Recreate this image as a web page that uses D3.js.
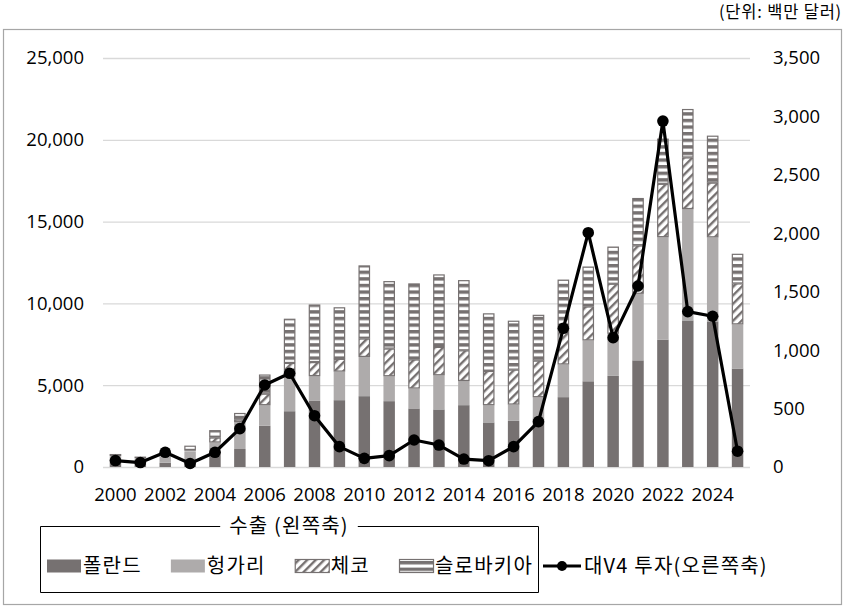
<!DOCTYPE html>
<html>
<head>
<meta charset="utf-8">
<script src="https://cdn.jsdelivr.net/npm/d3@7"></script>
<style>
  body { margin: 0; background: #fff; }
  svg { display: block; }
  text { font-family: 'Open Sans', 'Noto Sans CJK KR', sans-serif; fill: #000; }
  .kr { font-family: 'Noto Sans CJK KR', sans-serif; }
</style>
</head>
<body>
<div id="chart"></div>
<script>
var years = [2000, 2001, 2002, 2003, 2004, 2005, 2006, 2007, 2008, 2009, 2010, 2011, 2012,
             2013, 2014, 2015, 2016, 2017, 2018, 2019, 2020, 2021, 2022, 2023, 2024, 2025];
// 수출 (백만 달러, 왼쪽축)
var poland   = [500, 400, 260, 80, 1000, 1100, 2520, 3410, 4040, 4085, 4330, 4025, 3580,
                3520, 3780, 2725, 2820, 2970, 4270, 5240, 5570, 6520, 7790, 8960, 8900, 6020];
var hungary  = [150, 130, 400, 880, 500, 1650, 1260, 2150, 1520, 1750, 2400, 1525, 1220,
                2090, 1480, 1055, 1000, 1300, 2000, 2500, 2580, 4070, 6260, 6810, 5140, 2700];
var czech    = [20, 20, 10, 40, 300, 150, 700, 800, 850, 775, 1120, 1690, 1770,
                1730, 1870, 2090, 2130, 2230, 2300, 2070, 3050, 2950, 3260, 3150, 3340, 2500];
var slovakia = [120, 80, 30, 300, 450, 400, 1170, 2700, 3520, 3150, 4470, 4120, 4650,
                4430, 4290, 3520, 2990, 2800, 2880, 2440, 2270, 2900, 2760, 2960, 2870, 1810];
// 대V4 투자 (백만 달러, 오른쪽축)
var investment = [55, 38, 126, 30, 126, 328, 702, 802, 439, 174, 74, 97, 231,
                  188, 68, 54, 174, 388, 1187, 2005, 1107, 1549, 2960, 1330, 1290, 135];

var seriesNames = ['폴란드', '헝가리', '체코', '슬로바키아'];
var leftTicks = [0, 5000, 10000, 15000, 20000, 25000];
var rightTicks = [0, 500, 1000, 1500, 2000, 2500, 3000, 3500];
var xLabels = years.filter(y => y % 2 === 0);

var W = 845, H = 610;
var plotLeft = 103, plotRight = 750, plotBottom = 467, plotTop = 58;

var svg = d3.select('#chart')
            .append('svg')
            .attr('width', W)
            .attr('height', H);

var defs = svg.append('defs');

var hatch = defs.append('pattern')
    .attr('id', 'czech')
    .attr('patternUnits', 'userSpaceOnUse')
    .attr('width', 6)
    .attr('height', 6)
    .attr('patternTransform', 'rotate(45)');
hatch.append('rect').attr('width', 6).attr('height', 6).attr('fill', '#fff');
hatch.append('rect').attr('width', 2.4).attr('height', 6).attr('fill', '#767171');

var stripes = defs.append('pattern')
    .attr('id', 'slovakia')
    .attr('patternUnits', 'userSpaceOnUse')
    .attr('width', 10)
    .attr('height', 6.6);
stripes.append('rect').attr('width', 10).attr('height', 6.6).attr('fill', '#767171');
stripes.append('rect').attr('y', 3.4).attr('width', 10).attr('height', 3.2).attr('fill', '#fff');

var fills = ['#767171', '#aeabab', 'url(#czech)', 'url(#slovakia)'];
var strokes = ['none', 'none', '#767171', '#767171'];

// frame
svg.append('rect')
   .attr('x', 3.5)
   .attr('y', 29.5)
   .attr('width', 838)
   .attr('height', 575)
   .attr('fill', 'none')
   .attr('stroke', '#a6a6a6')
   .attr('stroke-width', 1.2);

svg.append('text')
   .attr('class', 'kr')
   .attr('x', 842)
   .attr('y', 18)
   .attr('text-anchor', 'end')
   .style('font-size', '16.5px')
   .style('letter-spacing', '0.8px')
   .text('(단위: 백만 달러)');

var x = d3.scaleBand()
          .domain(years)
          .range([plotLeft, plotRight])
          .paddingInner(0.54)
          .paddingOuter(0.27);

var yL = d3.scaleLinear().domain([0, 25000]).range([plotBottom, plotTop]);
var yR = d3.scaleLinear().domain([0, 3500]).range([plotBottom, plotTop]);

// gridlines
svg.append('g')
   .selectAll('line')
   .data(leftTicks)
   .enter()
   .append('line')
   .attr('x1', plotLeft)
   .attr('x2', plotRight)
   .attr('y1', d => yL(d) + 0.5)
   .attr('y2', d => yL(d) + 0.5)
   .attr('stroke', '#d9d9d9')
   .attr('stroke-width', 1.3);

var axL = svg.append('g')
   .attr('transform', `translate(${plotLeft},0)`)
   .call(d3.axisLeft(yL).tickValues(leftTicks).tickFormat(d3.format(',')).tickSize(0).tickPadding(19));
axL.select('.domain').remove();

var axR = svg.append('g')
   .attr('transform', `translate(${plotRight},0)`)
   .call(d3.axisRight(yR).tickValues(rightTicks).tickFormat(d3.format(',')).tickSize(0).tickPadding(23));
axR.select('.domain').remove();

var axB = svg.append('g')
   .attr('transform', `translate(0,${plotBottom})`)
   .call(d3.axisBottom(x).tickValues(xLabels).tickSize(0).tickPadding(21));
axB.select('.domain').remove();

svg.selectAll('.tick text')
   .style('font-size', '18.5px')
   .style('font-family', "'Open Sans', sans-serif");

// stacked bars
var table = years.map((yr, i) => ({
    year: yr, '폴란드': poland[i], '헝가리': hungary[i], '체코': czech[i], '슬로바키아': slovakia[i]
}));
var stacked = d3.stack().keys(seriesNames)(table);

stacked.forEach((layer, k) => {
    svg.append('g')
       .selectAll('rect')
       .data(layer)
       .enter()
       .append('rect')
       .attr('x', d => x(d.data.year) + (k > 1 ? 0.5 : 0))
       .attr('y', d => yL(d[1]) + (k > 1 ? 0.5 : 0))
       .attr('width', x.bandwidth() - (k > 1 ? 1 : 0))
       .attr('height', d => Math.max(0, yL(d[0]) - yL(d[1]) - (k > 1 ? 1 : 0)))
       .attr('fill', fills[k])
       .attr('stroke', strokes[k])
       .attr('stroke-width', 1.2);
});

// investment line
var lineData = years.map((yr, i) => ({ year: yr, value: investment[i] }));
var cx = d => x(d.year) + x.bandwidth() / 2;

svg.append('path')
   .datum(lineData)
   .attr('fill', 'none')
   .attr('stroke', '#000')
   .attr('stroke-width', 3.2)
   .attr('stroke-linejoin', 'round')
   .attr('d', d3.line().x(cx).y(d => yR(d.value)));

svg.append('g')
   .selectAll('circle')
   .data(lineData)
   .enter()
   .append('circle')
   .attr('cx', cx)
   .attr('cy', d => yR(d.value))
   .attr('r', 5.8)
   .attr('fill', '#000');

// legend: boxed group for exports, line item outside the box
var legY = 566, boxTop = 526, boxBottom = 592, boxLeft = 40, boxRight = 538;
var sw = 34;
var lg = svg.append('g');

var labels = seriesNames.map(name => lg.append('text')
    .attr('class', 'kr')
    .attr('y', legY + 7)
    .style('font-size', '20px')
    .style('letter-spacing', '1.2px')
    .text(name));
var widths = labels.map(t => t.node().getComputedTextLength());
var used = d3.sum(widths) + seriesNames.length * (sw + 2);
var gap = (boxRight - boxLeft - 12 - used) / (seriesNames.length - 1);

var cur = boxLeft + 7;
seriesNames.forEach((name, k) => {
    lg.append('rect')
      .attr('x', cur + (k > 1 ? 0.5 : 0))
      .attr('y', legY - 6.5)
      .attr('width', sw)
      .attr('height', 13)
      .attr('fill', fills[k])
      .attr('stroke', strokes[k])
      .attr('stroke-width', 1.2);
    labels[k].attr('x', cur + sw + 2);
    cur += sw + 2 + widths[k] + gap;
});

var title = lg.append('text')
   .attr('class', 'kr')
   .attr('x', (boxLeft + boxRight) / 2)
   .attr('y', boxTop + 7)
   .attr('text-anchor', 'middle')
   .style('font-size', '20px')
   .style('letter-spacing', '1.2px')
   .text('수출 (왼쪽축)');
var tw = title.node().getComputedTextLength();
var mid = (boxLeft + boxRight) / 2;

lg.append('path')
  .attr('fill', 'none')
  .attr('stroke', '#000')
  .attr('stroke-width', 1)
  .attr('d', `M${mid - tw / 2 - 9},${boxTop + 0.5}H${boxLeft + 0.5}V${boxBottom + 0.5}H${boxRight + 0.5}V${boxTop + 0.5}H${mid + tw / 2 + 9}`);

lg.append('line')
  .attr('x1', boxRight + 5)
  .attr('x2', boxRight + 43)
  .attr('y1', legY)
  .attr('y2', legY)
  .attr('stroke', '#000')
  .attr('stroke-width', 3);
lg.append('circle')
  .attr('cx', boxRight + 24)
  .attr('cy', legY)
  .attr('r', 5)
  .attr('fill', '#000');
lg.append('text')
  .attr('class', 'kr')
  .attr('x', boxRight + 46)
  .attr('y', legY + 7)
  .style('font-size', '20px')
  .style('letter-spacing', '1.2px')
  .text('대V4 투자(오른쪽축)');
</script>
</body>
</html>
